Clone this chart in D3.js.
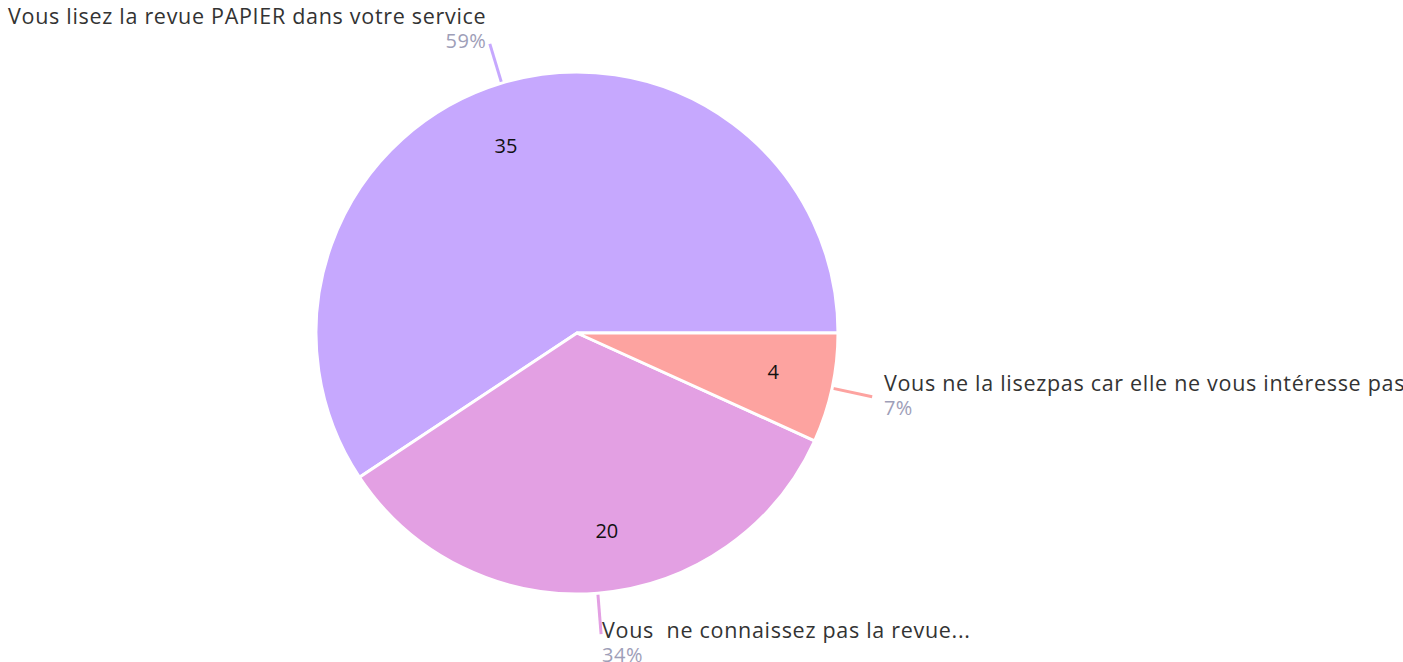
<!DOCTYPE html>
<html>
<head>
  <meta charset="utf-8">
  <title>Pie</title>
  <style>
    body { margin: 0; background: #fff; }
    text { font-family: "Open Sans", sans-serif; white-space: pre; }
  </style>
</head>
<body>
  <svg width="1403" height="662"></svg>
  <script src="https://d3js.org/d3.v7.min.js"></script>
  <script>
  // data
  var labels = ["Vous lisez la revue PAPIER dans votre service", "Vous  ne connaissez pas la revue...", "Vous ne la lisezpas car elle ne vous intéresse pas"];
  var values = [35, 20, 4];
  var colors = ["#c6a8fe", "#e3a0e3", "#fda3a0"];

  var width = 1403, height = 662;
  var cx = 577, cy = 333, radius = 261;
  var total = d3.sum(values);

  var svg = d3.select("svg");
  var g = svg.append("g").attr("transform", "translate(" + cx + "," + cy + ")");

  // start at 3 o'clock, go counterclockwise
  var pie = d3.pie().sort(null)
    .startAngle(Math.PI / 2 + 2 * Math.PI)
    .endAngle(Math.PI / 2);
  var arcs = pie(values);

  var arc = d3.arc().innerRadius(0).outerRadius(radius);

  function point(a, r) {
    // d3 angle: 0 at 12 o'clock, clockwise
    return [Math.sin(a) * r, -Math.cos(a) * r];
  }
  function mid(d) { return (d.startAngle + d.endAngle) / 2; }

  // leader lines (under the slices)
  g.selectAll("line.leader")
    .data(arcs)
    .enter()
    .append("line")
    .attr("class", "leader")
    .each(function(d) {
      var p0 = point(mid(d), 256), p1 = point(mid(d), 302);
      d3.select(this).attr("x1", p0[0]).attr("y1", p0[1]).attr("x2", p1[0]).attr("y2", p1[1]);
    })
    .attr("stroke", function(d, i) { return colors[i]; })
    .attr("stroke-width", 3);

  // slices
  g.selectAll("path")
    .data(arcs)
    .enter()
    .append("path")
    .attr("d", arc)
    .attr("fill", function(d, i) { return colors[i]; })
    .attr("stroke", "#fff")
    .attr("stroke-width", 3)
    .attr("stroke-linejoin", "round");

  // values inside (nudged a little counterclockwise on big slices)
  function valAngle(d) {
    var span = Math.abs(d.endAngle - d.startAngle);
    return mid(d) - 0.07 * Math.min(1, span / (Math.PI / 2));
  }
  g.selectAll("text.val")
    .data(arcs)
    .enter()
    .append("text")
    .attr("class", "val")
    .attr("x", function(d) { return point(valAngle(d), 200)[0]; })
    .attr("y", function(d) { return point(valAngle(d), 200)[1]; })
    .attr("dy", "0.35em")
    .attr("text-anchor", "middle")
    .attr("font-size", 20)
    .attr("fill", "#111")
    .text(function(d) { return d.value; });

  // outer labels
  var outer = g.selectAll("g.lab")
    .data(arcs)
    .enter()
    .append("g")
    .attr("class", "lab")
    .attr("transform", function(d) {
      var m = mid(d);
      var p = point(m, 302);
      var s = -Math.cos(m), c = Math.sin(m);
      var x = p[0] + 12 * c;
      var y = s > 0.5 ? p[1] + 4 : (s < -0.5 ? p[1] - 20 : p[1] - 6);
      return "translate(" + x + "," + y + ")";
    });

  function anchor(d) { return Math.sin(mid(d)) < 0 ? "end" : "start"; }

  outer.append("text")
    .attr("text-anchor", anchor)
    .attr("font-size", 21.5)
    .attr("letter-spacing", 0.7)
    .attr("fill", "#333")
    .text(function(d, i) { return labels[i]; });

  outer.append("text")
    .attr("y", 24)
    .attr("text-anchor", anchor)
    .attr("font-size", 20)
    .attr("letter-spacing", 0.5)
    .attr("fill", "#9e9eb8")
    .text(function(d) { return Math.round(d.value / total * 100) + "%"; });
  </script>
</body>
</html>
